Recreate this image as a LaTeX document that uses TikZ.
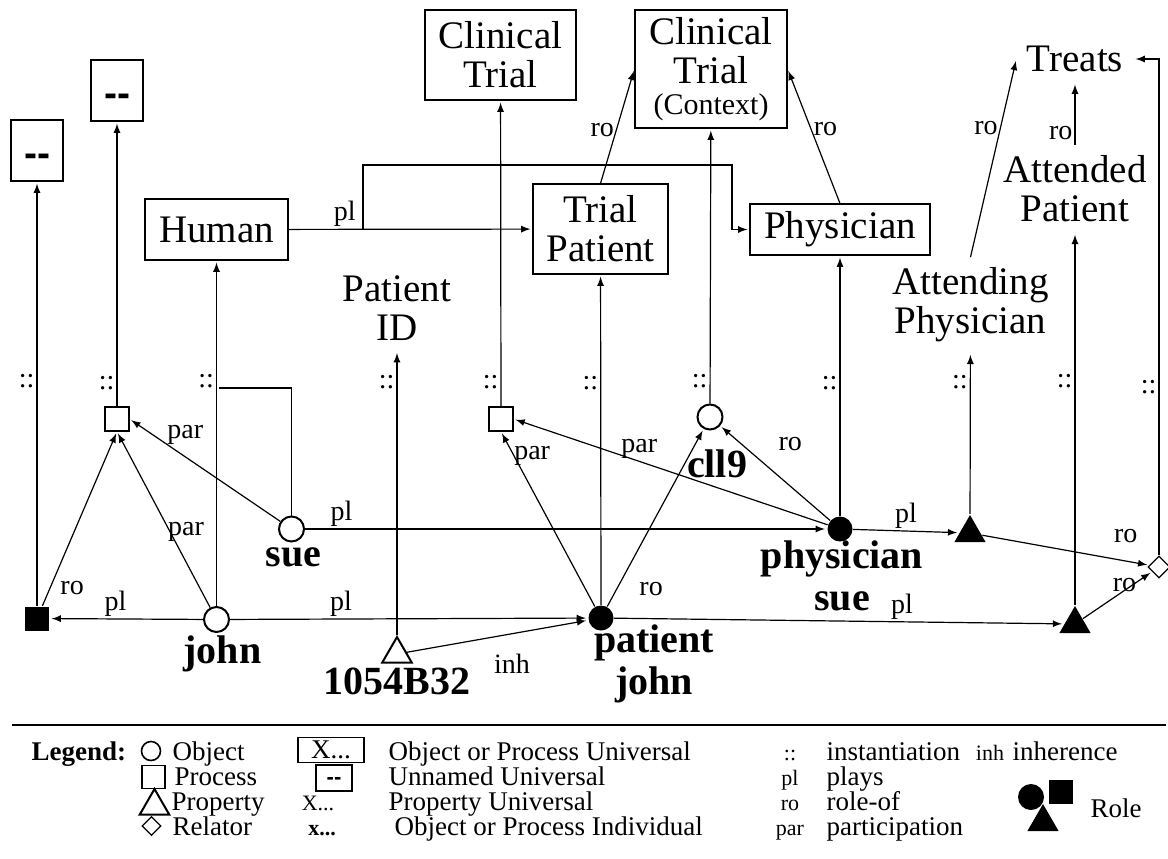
\documentclass[tikz,border=0pt]{standalone}
\usepackage{fontspec}
\setmainfont{Liberation Serif}
\newfontfamily\dashfamily{Liberation Sans}
\usepackage{tikz}
\usetikzlibrary{arrows,positioning,shapes.geometric}
\newcommand\unifont{\fontsize{19.5}{19.5}\selectfont}
\newcommand\ctxfont{\fontsize{15}{15}\selectfont}
\newcommand\indfont{\fontsize{20}{21}\selectfont\bfseries}
\newcommand\lblfont{\fontsize{14}{14}\selectfont}
\newcommand\legfont{\fontsize{13.5}{14}\selectfont}
\newcommand\legsmall{\fontsize{11}{11}\selectfont}
\newcommand\nodash{\raisebox{-8pt}[0pt][0pt]{\dashfamily\bfseries -{}-}}
\newcommand\legdash{\raisebox{-3pt}[0pt][0pt]{\dashfamily\bfseries -{}-}}

\begin{document}
\begin{tikzpicture}[x=0.5pt,y=-0.5pt,line width=.6pt,>=latex,shorten >=1pt,node distance=20pt,on grid,
  uni/.style={draw,rectangle,inner sep=0pt,align=center,font=\unifont},
  unitxt/.style={inner sep=5pt,align=center,font=\unifont},
  unn/.style={uni,minimum width=26pt,minimum height=30.5pt},
  obj/.style={circle,draw,fill=white,line width=1pt,minimum size=12.5pt,inner sep=0pt},
  rolec/.style={circle,fill,minimum size=12.5pt,inner sep=0pt},
  proc/.style={rectangle,draw,fill=white,minimum size=12pt,inner sep=0pt},
  rolesq/.style={rectangle,fill,minimum size=12pt,inner sep=0pt},
  prop/.style={regular polygon,regular polygon sides=3,draw,fill=white,line width=1pt,minimum size=17pt,inner sep=0pt},
  roletri/.style={regular polygon,regular polygon sides=3,fill,minimum size=18pt,inner sep=0pt},
  rel/.style={diamond,draw,fill=white,minimum size=11pt,inner sep=0pt},
  indiv/.style={font=\indfont,align=center,inner sep=0pt},
  lbl/.style={font=\lblfont,inner sep=1pt},
  inst/.style={font=\lblfont,inner sep=1pt},
  legtxt/.style={font=\legfont,inner sep=0pt,anchor=base west}]
\useasboundingbox (0,0) rectangle (1168,858);

\node[unn] (un1) at (37,150.5) {\nodash};
\node[unn] (un2) at (117,90.5) {\nodash};
\node[uni,minimum width=71.5pt,minimum height=30.5pt] (human) at (216.5,229.5) {Human};
\node[uni,minimum width=75.5pt,minimum height=45pt] (ct) at (500.5,55) {Clinical\\Trial};
\node[uni,minimum width=76pt,minimum height=59pt] (ctx) at (711,69) {Clinical\\Trial\\[-4pt]{\ctxfont(Context)}};
\node[uni,minimum width=67.5pt,minimum height=45pt] (tp) at (600.5,229) {Trial\\Patient};
\node[uni,minimum width=90pt,minimum height=25.5pt] (phys) at (840,229.5) {Physician};
\node[unitxt] (pid) at (397,308) {Patient\\ID};
\node[unitxt] (attg) at (970.5,305) {Attending\\Physician};
\node[unitxt] (attd) at (1075,189) {Attended\\Patient};
\node[unitxt] (treats) at (1075,59) {Treats};

\node[rolesq] (rsq) at (37,618.5) {};
\node[obj] (john) at (216.5,619.5) {};
\node[obj] (sue) at (291.5,529) {};
\node[proc] (p1) at (117,419) {};
\node[prop] (prop) at (397,654) {};
\node[proc] (p2) at (501,419) {};
\node[rolec] (pj) at (601,618) {};
\node[obj] (cll) at (710,417) {};
\node[rolec] (ps) at (840,529) {};
\node[roletri] (t1) at (970,533) {};
\node[roletri] (t2) at (1075,624) {};
\node[rel] (rel) at (1159,567) {};

\node[indiv] (johnl) [below=17pt of john,xshift=3pt] {john};
\node[indiv] (suel) [below=14pt of sue,xshift=1pt] {sue};
\node[indiv] (propl) [below=13.5pt of prop] {1054B32};
\node[indiv] (pjl) [below right=23pt and 26.5pt of pj] {patient\\john};
\node[indiv] (psl) [below=23.5pt of ps,xshift=1pt] {physician\\sue};
\node[indiv] (clll) [below=23.5pt of cll,xshift=3.5pt] {cll9};

\coordinate (suejoin) at (217,388);
\coordinate (plsplit) at (363,229.5);
\coordinate (plbend) at (732,165);

\path[->]
  (rsq)  edge node[inst,pos=.53,left] {::} (un1)
         edge node[lbl,pos=.1,right=4pt] {ro} (p1.south)
  (p1)   edge node[inst,pos=.08,left] {::} (un2)
  (john) edge node[inst,pos=.65,left] {::} (human)
         edge node[lbl,pos=.43,xshift=8pt] {par} (p1.south)
         edge node[lbl,pos=.57,above] {pl} (rsq)
         edge node[lbl,pos=.31,above] {pl} (pj)
  (sue)  edge node[lbl,pos=.63,above=5pt] {par} (p1.east)
         edge node[lbl,pos=.07,above] {pl} (ps)
  (prop) edge node[inst,pos=.89,left] {::} (pid)
         edge node[lbl,pos=.58,below=9pt] {inh} (pj)
  (p2)   edge node[inst,pos=.08,left] {::} (ct)
  (pj)   edge node[inst,pos=.67,left] {::} (tp)
         edge node[lbl,pos=.86,xshift=9pt] {par} (p2.south)
         edge node[lbl,pos=.1,right=10pt] {ro} (cll)
         edge node[lbl,pos=.64,above] {pl} (t2)
  (cll)  edge node[inst,pos=.08,left] {::} (ctx)
  (ps)   edge node[inst,pos=.51,left] {::} (phys)
         edge node[lbl,pos=.6,above] {par} (p2.east)
         edge node[lbl,pos=.6,xshift=13pt,yshift=10pt] {ro} (cll)
         edge node[lbl,pos=.5,above] {pl} (t1)
  (t1)   edge node[inst,pos=.82,left] {::} (attg)
         edge node[lbl,pos=.86,above=8pt] {ro} (rel)
  (t2)   edge node[inst,pos=.6,left] {::} (attd)
         edge node[lbl,pos=.6,above=-2pt] {ro} (rel)
  (tp.north)   edge node[lbl,pos=.47,left] {ro} (ctx.west)
  (phys.north) edge node[lbl,pos=.55,right] {ro} (ctx.east)
  (attg.north) edge node[lbl,pos=.65,left] {ro} (treats.west)
  (attd.north) edge node[lbl,pos=.2,left] {ro} (treats.south)
  (human) edge node[lbl,pos=.23,above] {pl} (tp);
\draw[->] (rel) |- node[inst,pos=.17,left] {::} (treats.east);
\draw (sue) |- (suejoin);
\draw[->] (plsplit) |- (plbend) |- (phys.west);

% legend
\draw (12,725) -- (1168,725);
\node[legtxt,font=\legfont\bfseries] (legend) at (31,760) {Legend:};
\node[obj,minimum size=9.5pt,line width=.8pt] (lobj) at (151,751) {};
\node[legtxt] (lobjt) at (172,760) {Object};
\node[proc,minimum size=11.5pt] (lproc) at (153.5,777) {};
\node[legtxt] (lproct) at (174,785) {Process};
\node[prop,minimum size=17pt] (lprop) at (154.5,806) {};
\node[legtxt] (lpropt) at (171,810) {Property};
\node[rel,minimum size=9.5pt] (lrel) at (151.5,826) {};
\node[legtxt] (lrelt) at (172,835) {Relator};

\node[uni,font=\legfont,minimum width=33pt,minimum height=12.5pt] (lx) at (331,750) {X...};
\node[legtxt] (lxt) at (388,760) {Object or Process Universal};
\node[uni,font=\legsmall,minimum width=18pt,minimum height=13pt] (ldash) at (334,778) {\legdash};
\node[legtxt] (ldasht) at (388,785) {Unnamed Universal};
\node[legtxt,font=\legsmall,anchor=base] (lpx) at (318,810) {X...};
\node[legtxt] (lpxt) at (388,810) {Property Universal};
\node[legtxt,font=\legsmall\bfseries,anchor=base] (lix) at (322,835) {x...};
\node[legtxt] (lixt) at (394,835) {Object or Process Individual};

\node[legtxt,font=\legsmall,anchor=base] (linst) at (790,760) {::};
\node[legtxt] (linstt) at (826,760) {instantiation};
\node[legtxt,font=\legsmall,anchor=base] (lpl) at (790,785) {pl};
\node[legtxt] (lplt) at (826,785) {plays};
\node[legtxt,font=\legsmall,anchor=base] (lro) at (790,810) {ro};
\node[legtxt] (lrot) at (826,810) {role-of};
\node[legtxt,font=\legsmall,anchor=base] (lpar) at (790,835) {par};
\node[legtxt] (lpart) at (826,835) {participation};
\node[legtxt,font=\legsmall,anchor=base] (linh) at (990,760) {inh};
\node[legtxt] (linht) at (1012,760) {inherence};

\node[rolec,minimum size=13pt] (lrc) at (1031,797) {};
\node[rolesq,minimum size=12pt] (lrs) at (1061,792) {};
\node[roletri,minimum size=18pt] (lrt) at (1043,822) {};
\node[legtxt] (lrolet) at (1090,817) {Role};
\end{tikzpicture}
\end{document}
